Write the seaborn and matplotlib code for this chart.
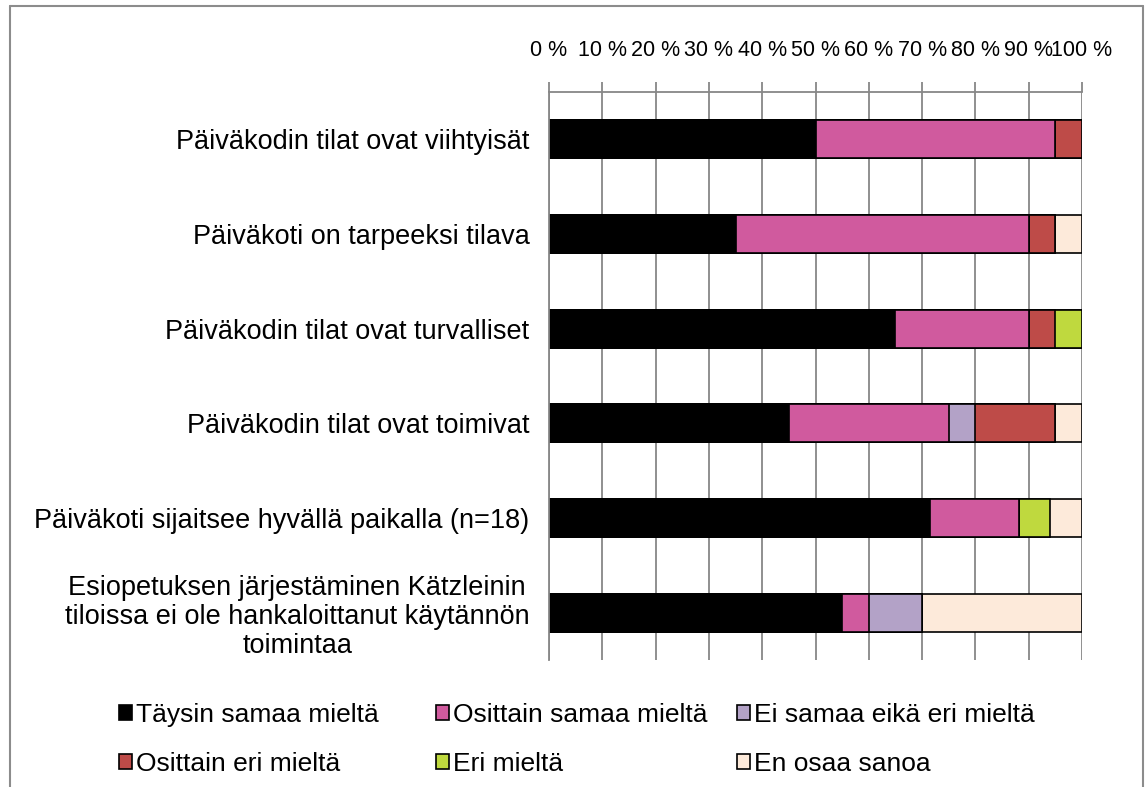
"""Päiväkodin tilat -kyselyn vastausjakauma pinottuina vaakapylväinä."""
import numpy as np
import pandas as pd
import matplotlib
matplotlib.use("Agg")
import matplotlib.pyplot as plt
import seaborn as sns
from matplotlib.patches import Patch
from matplotlib.lines import Line2D

# ---------------------------------------------------------------------------
# data (prosentteina)
# ---------------------------------------------------------------------------
questions = [
    "Päiväkodin tilat ovat viihtyisät",
    "Päiväkoti on tarpeeksi tilava",
    "Päiväkodin tilat ovat turvalliset",
    "Päiväkodin tilat ovat toimivat",
    "Päiväkoti sijaitsee hyvällä paikalla (n=18)",
    "Esiopetuksen järjestäminen Kätzleinin\ntiloissa ei ole hankaloittanut käytännön\ntoimintaa",
]
answers = [
    "Täysin samaa mieltä",
    "Osittain samaa mieltä",
    "Ei samaa eikä eri mieltä",
    "Osittain eri mieltä",
    "Eri mieltä",
    "En osaa sanoa",
]
taysin_samaa = [50, 35, 65, 45, 71.4, 55]
osittain_samaa = [45, 55, 25, 30, 16.7, 5]
ei_samaa_eika_eri = [0, 0, 0, 5, 0, 10]
osittain_eri = [5, 5, 5, 15, 0, 0]
eri_mielta = [0, 0, 5, 0, 5.9, 0]
en_osaa = [0, 5, 0, 5, 6.0, 30]
xtick_values = list(range(0, 101, 10))

colors = ["#000000", "#D05A9E", "#B3A2C7", "#BE4B48", "#BFD93E", "#FDEADA"]

df = pd.DataFrame(
    np.array([taysin_samaa, osittain_samaa, ei_samaa_eika_eri,
              osittain_eri, eri_mielta, en_osaa]).T,
    columns=answers,
)
cum = df[answers].cumsum(axis=1)
cum["question"] = questions

# ---------------------------------------------------------------------------
# piirto
# ---------------------------------------------------------------------------
sns.set_theme(style="white")
plt.rcParams["font.family"] = ["Liberation Sans", "DejaVu Sans"]
plt.rcParams["text.color"] = "black"

W, H = 1145, 787
fig = plt.figure(figsize=(W / 100, H / 100), dpi=100)
ax = fig.add_axes([549 / W, 1 - 660 / H, (1082 - 549) / W, (660 - 92) / H])

grid_c = "#878787"
for v in xtick_values:
    ax.axvline(v, color=grid_c, lw=1.3, zorder=0)

# pinotaan: piirretään kumulatiiviset summat suurimmasta pienimpään
for name, col in reversed(list(zip(answers, colors))):
    sns.barplot(data=cum, x=name, y="question", orient="h", color=col,
                width=0.4, edgecolor="black", linewidth=1.2,
                saturation=1, ax=ax, zorder=2)

ax.set_xlim(0, 100)
ax.set_ylim(5.5, -0.5)
ax.xaxis.tick_top()
ax.set_xticks(xtick_values)
ax.set_xticklabels([f"{v} %" for v in xtick_values], fontsize=15.5)
ax.tick_params(axis="x", which="major", direction="out", length=7,
               color=grid_c, width=1.3, pad=15, labelcolor="black")
ax.set_xlabel("")
ax.set_ylabel("")

ax.set_yticks(range(len(questions)))
ax.set_yticklabels(questions, fontsize=19.5, multialignment="center",
                   linespacing=1.15)
ax.tick_params(axis="y", which="major", length=0, pad=14, labelcolor="black")
ax.set_yticks(np.arange(-0.5, len(questions)), minor=True)
ax.tick_params(axis="y", which="minor", direction="out", length=8,
               color=grid_c, width=1.3)

for side in ["right", "bottom"]:
    ax.spines[side].set_visible(False)
for side in ["top", "left"]:
    ax.spines[side].set_color(grid_c)
    ax.spines[side].set_linewidth(1.3)

# selite: kolme saraketta erikseen, jotta sarakkeiden paikat osuvat
handles = [Patch(facecolor=c, edgecolor="black", linewidth=1.2) for c in colors]
col_x = [119, 436, 737]
for k, x0 in enumerate(col_x):
    idx = [k, k + 3]
    fig.legend([handles[i] for i in idx], [answers[i] for i in idx],
               loc="upper left", bbox_to_anchor=(x0 / W, 1 - 703 / H),
               frameon=False, fontsize=19, handlelength=0.5, handleheight=0.5,
               handletextpad=0.15, labelspacing=0.95, borderpad=0,
               borderaxespad=0)

# kaavion reunaviiva (alareuna jää kuvan ulkopuolelle)
bx0, bx1, by0 = 10 / W, 1143 / W, 1 - 6 / H
for xs, ys in [([bx0, bx0], [0, by0]), ([bx0, bx1], [by0, by0]), ([bx1, bx1], [by0, 0])]:
    fig.add_artist(Line2D(xs, ys, color="#8c8c8c", lw=1.5))

fig.savefig("out.png", dpi=100)
plt.close(fig)
